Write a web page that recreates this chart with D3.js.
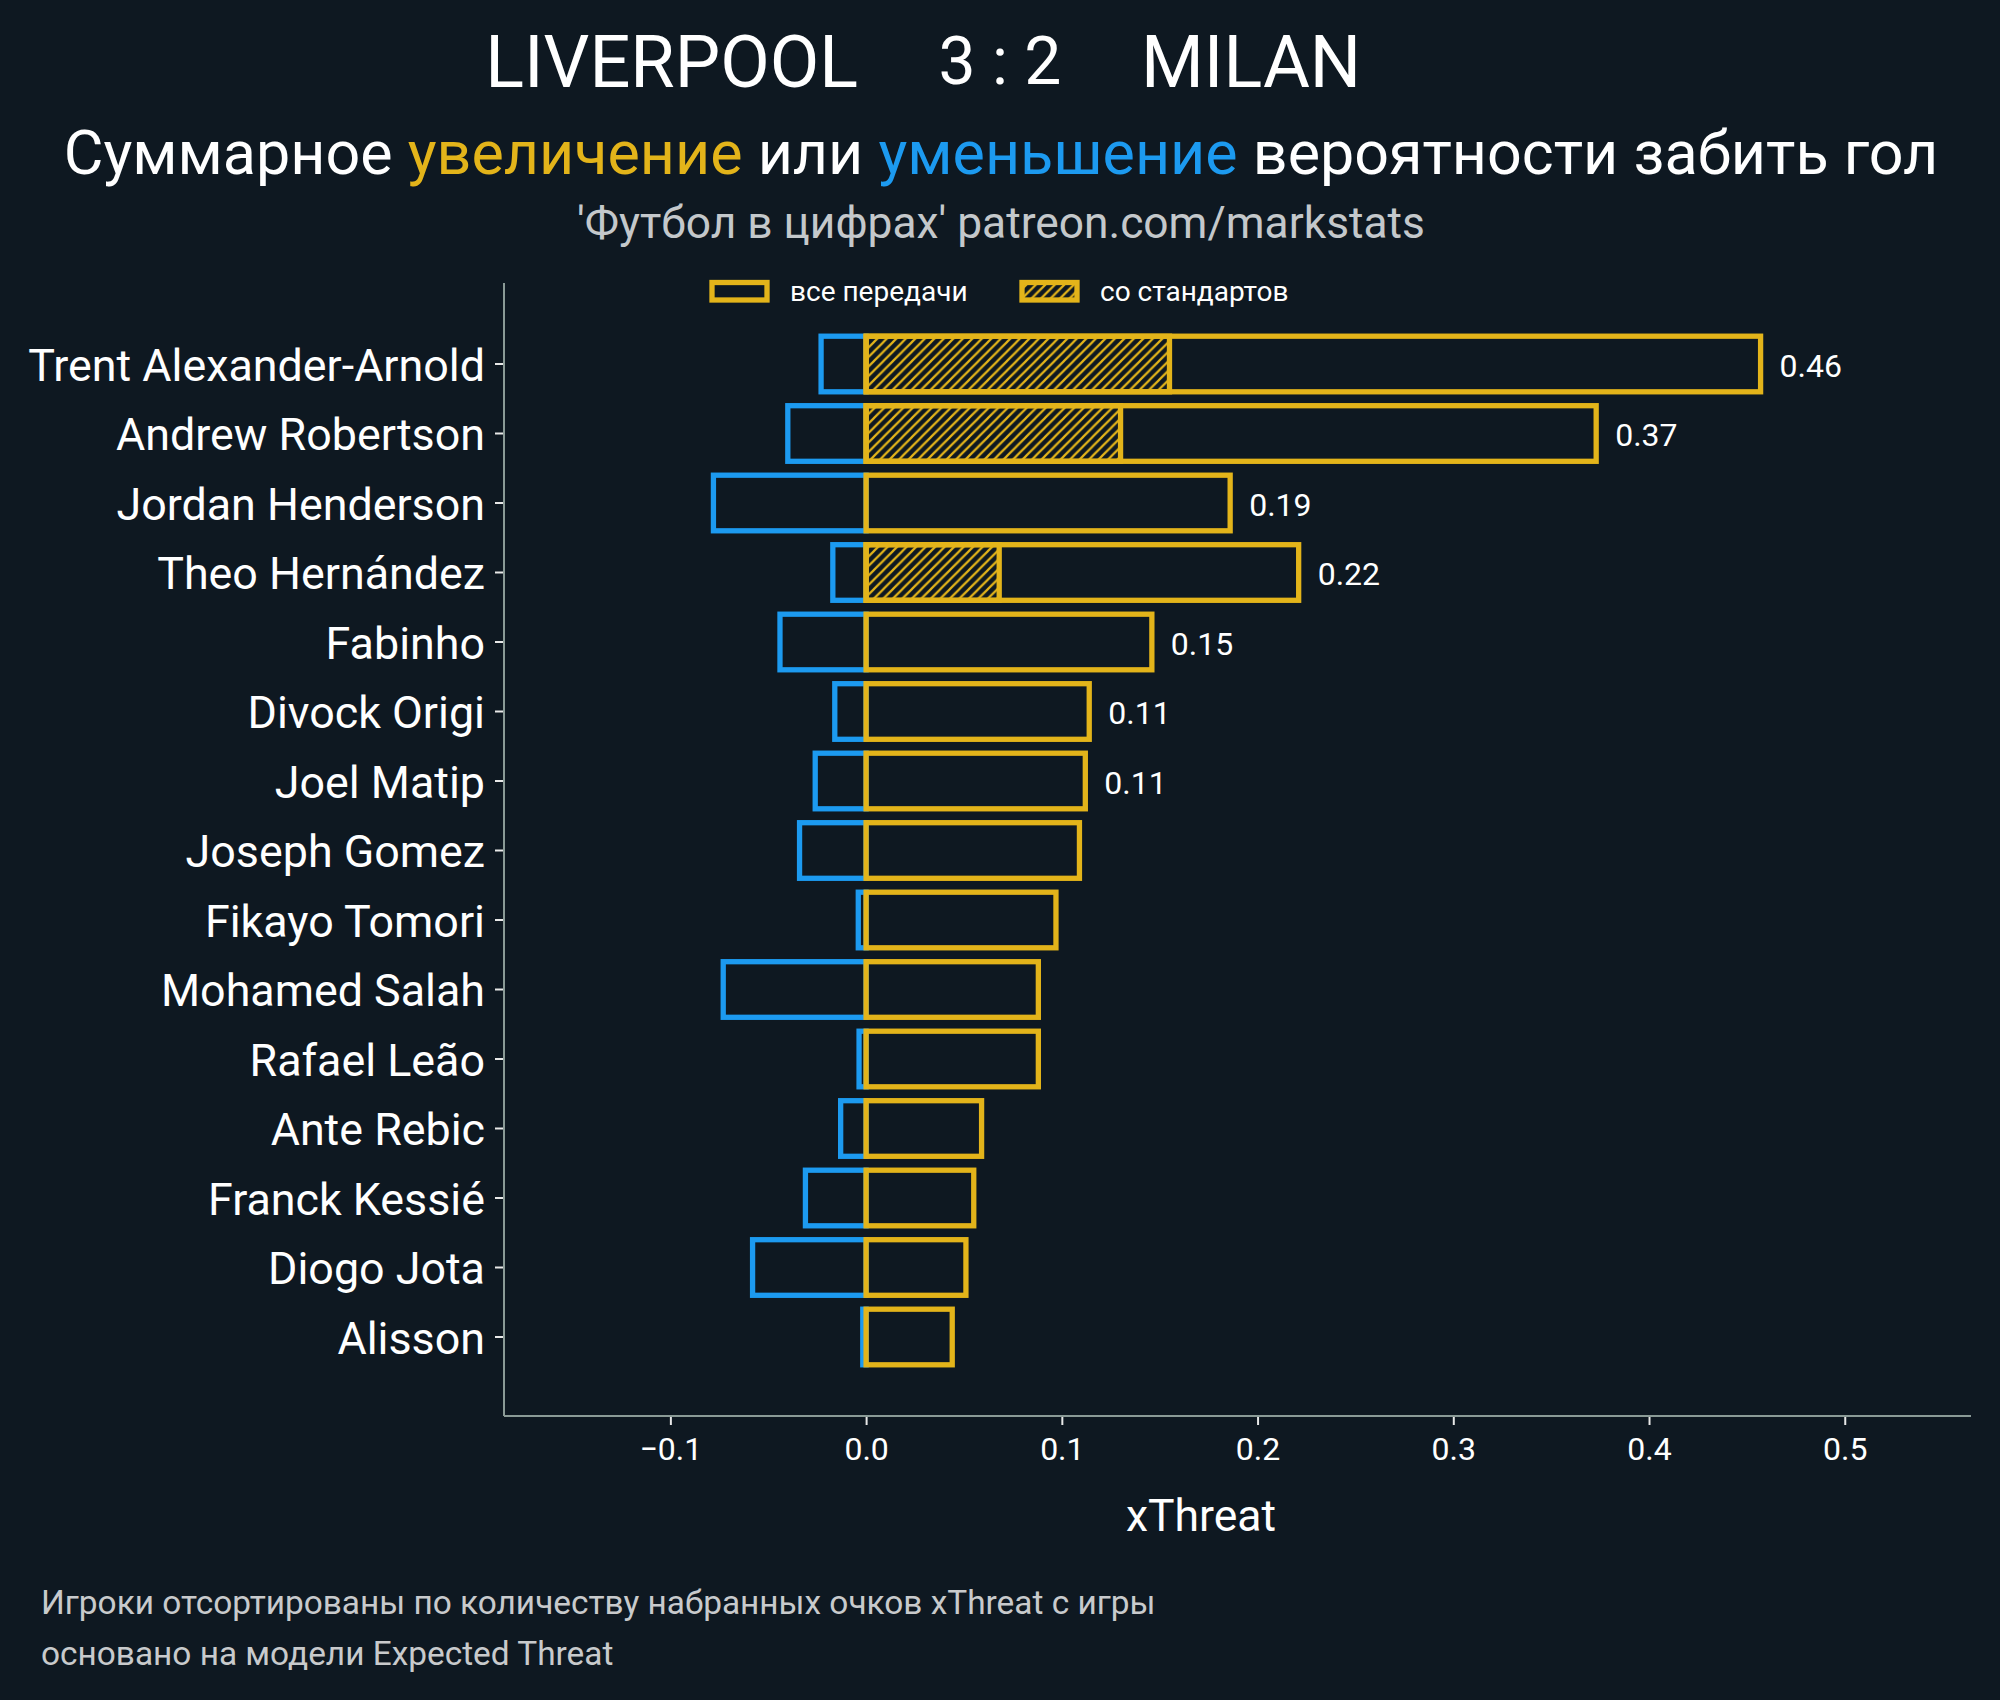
<!DOCTYPE html>
<html>
<head>
<meta charset="utf-8">
<script src="https://cdn.jsdelivr.net/npm/d3@7"></script>
<style>
  html, body { margin: 0; padding: 0; background: #0e1821; }
  svg { display: block; font-family: Roboto, "Noto Sans", sans-serif; }
</style>
</head>
<body>
<div id="main"></div>
<script>
// players, sorted as in the picture (top to bottom)
const players = [
  "Trent Alexander-Arnold", "Andrew Robertson", "Jordan Henderson", "Theo Hernández",
  "Fabinho", "Divock Origi", "Joel Matip", "Joseph Gomez", "Fikayo Tomori",
  "Mohamed Salah", "Rafael Leão", "Ante Rebic", "Franck Kessié", "Diogo Jota", "Alisson"
];
// xThreat gained by all passes
const gained = [0.457, 0.373, 0.186, 0.221, 0.146, 0.114, 0.112, 0.109, 0.097,
                0.088, 0.088, 0.059, 0.055, 0.051, 0.044];
// xThreat lost by all passes
const lost = [-0.023, -0.040, -0.078, -0.017, -0.044, -0.016, -0.026, -0.034, -0.004,
              -0.073, -0.0036, -0.013, -0.031, -0.058, -0.0017];
// xThreat gained from set pieces
const setPieces = [0.155, 0.130, 0, 0.068, 0, 0, 0, 0, 0, 0, 0, 0, 0, 0, 0];
const xTicks = [-0.1, 0.0, 0.1, 0.2, 0.3, 0.4, 0.5];

const data = players.map((p, i) => ({
  name: p, gained: gained[i], lost: lost[i], setPieces: setPieces[i]
}));

const width = 2000, height = 1700;
const frame = {left: 504, right: 1971, top: 283, bottom: 1416};
const yellow = "#e3b41a", blue = "#1c9af0", spine = "#8a9a96", bg = "#0e1821";

const svg = d3.select("#main").append("svg")
  .attr("width", width).attr("height", height);

svg.append("rect").attr("width", width).attr("height", height).attr("fill", bg);

// hatch pattern for set pieces
const pat = svg.append("defs").append("pattern")
  .attr("id", "hatch")
  .attr("patternUnits", "userSpaceOnUse")
  .attr("width", 9.5).attr("height", 9.5);
pat.append("path")
  .attr("d", "M-2,2 L2,-2 M0,9.5 L9.5,0 M7.5,11.5 L11.5,7.5")
  .attr("stroke", yellow).attr("stroke-width", 2.2);

const xScale = d3.scaleLinear()
  .domain([-0.185, 0.5645])
  .range([frame.left, frame.right]);

const yScale = d3.scaleBand()
  .domain(players)
  .range([329.25, 1371.75])
  .paddingInner(0.2)
  .paddingOuter(0.1);

// x axis
const xAxis = svg.append("g")
  .attr("transform", `translate(0,${frame.bottom})`)
  .call(d3.axisBottom(xScale)
    .tickValues(xTicks)
    .tickFormat(d3.format(".1f"))
    .tickSize(9)
    .tickPadding(12));
xAxis.select(".domain").remove();
xAxis.selectAll(".tick line").attr("stroke", "#e8e8e8").attr("stroke-width", 2);
xAxis.selectAll(".tick text")
  .attr("fill", "#ffffff").attr("font-size", 32).attr("font-family", "Roboto");

// y axis
const yAxis = svg.append("g")
  .attr("transform", `translate(${frame.left},0)`)
  .call(d3.axisLeft(yScale).tickSize(9).tickPadding(10));
yAxis.select(".domain").remove();
yAxis.selectAll(".tick line").attr("stroke", "#e8e8e8").attr("stroke-width", 2);
yAxis.selectAll(".tick text")
  .attr("fill", "#ffffff").attr("font-size", 44.8).attr("dy", "0.37em")
  .attr("font-family", "Roboto");

// spines
svg.append("line")
  .attr("x1", frame.left).attr("x2", frame.left)
  .attr("y1", frame.top).attr("y2", frame.bottom)
  .attr("stroke", spine).attr("stroke-width", 2);
svg.append("line")
  .attr("x1", frame.left).attr("x2", frame.right)
  .attr("y1", frame.bottom).attr("y2", frame.bottom)
  .attr("stroke", spine).attr("stroke-width", 2);

// bars
const bars = svg.append("g");
const bw = yScale.bandwidth();

bars.selectAll(".lost")
  .data(data)
  .enter().append("rect")
    .attr("class", "lost")
    .attr("x", d => xScale(d.lost))
    .attr("y", d => yScale(d.name))
    .attr("width", d => xScale(0) - xScale(d.lost))
    .attr("height", bw)
    .attr("fill", "none")
    .attr("stroke", blue)
    .attr("stroke-width", 5.3);

bars.selectAll(".gained")
  .data(data)
  .enter().append("rect")
    .attr("class", "gained")
    .attr("x", xScale(0))
    .attr("y", d => yScale(d.name))
    .attr("width", d => xScale(d.gained) - xScale(0))
    .attr("height", bw)
    .attr("fill", "none")
    .attr("stroke", yellow)
    .attr("stroke-width", 5.3);

bars.selectAll(".setpiece")
  .data(data.filter(d => d.setPieces > 0))
  .enter().append("rect")
    .attr("class", "setpiece")
    .attr("x", xScale(0))
    .attr("y", d => yScale(d.name))
    .attr("width", d => xScale(d.setPieces) - xScale(0))
    .attr("height", bw)
    .attr("fill", "url(#hatch)")
    .attr("stroke", yellow)
    .attr("stroke-width", 5.3);

// value labels for the biggest contributors
svg.append("g").selectAll("text")
  .data(data.filter(d => d.gained >= 0.11))
  .enter().append("text")
    .attr("x", d => xScale(d.gained) + 19)
    .attr("y", d => yScale(d.name) + bw / 2)
    .attr("dy", "0.4em")
    .attr("fill", "#ffffff")
    .attr("font-size", 32)
    .text(d => d3.format(".2f")(d.gained));

// legend
const legend = [
  {label: "все передачи", x: 712, fill: "none"},
  {label: "со стандартов", x: 1022, fill: "url(#hatch)"}
];
const lg = svg.append("g").selectAll("g").data(legend).enter().append("g");
lg.append("rect")
  .attr("x", d => d.x).attr("y", 282.5)
  .attr("width", 55).attr("height", 17.5)
  .attr("fill", d => d.fill)
  .attr("stroke", yellow).attr("stroke-width", 5.3);
lg.append("text")
  .attr("x", d => d.x + 78).attr("y", 301)
  .attr("fill", "#ffffff").attr("font-size", 28)
  .text(d => d.label);

// axis label
svg.append("text")
  .attr("x", 1201).attr("y", 1531)
  .attr("text-anchor", "middle")
  .attr("fill", "#ffffff").attr("font-size", 44.5)
  .text("xThreat");

// titles
svg.append("text").attr("x", 858).attr("y", 87).attr("text-anchor", "end")
  .attr("fill", "#ffffff").attr("font-size", 72).text("LIVERPOOL");
svg.append("text").attr("x", 1000).attr("y", 84).attr("text-anchor", "middle")
  .attr("fill", "#ffffff").attr("font-size", 66).text("3 : 2");
svg.append("text").attr("x", 1141).attr("y", 87).attr("text-anchor", "start")
  .attr("fill", "#ffffff").attr("font-size", 72).text("MILAN");

const sub = svg.append("text").attr("x", 1001).attr("y", 174)
  .attr("text-anchor", "middle").attr("fill", "#ffffff").attr("font-size", 61);
sub.append("tspan").text("Суммарное ");
sub.append("tspan").attr("fill", yellow).text("увеличение");
sub.append("tspan").text(" или ");
sub.append("tspan").attr("fill", blue).text("уменьшение");
sub.append("tspan").text(" вероятности забить гол");

svg.append("text").attr("x", 1001).attr("y", 238).attr("text-anchor", "middle")
  .attr("fill", "#c4c8cb").attr("font-size", 44.3)
  .text("'Футбол в цифрах' patreon.com/markstats");

// footer notes
svg.append("text").attr("x", 41).attr("y", 1614)
  .attr("fill", "#c8cacc").attr("font-size", 33.4)
  .text("Игроки отсортированы по количеству набранных очков xThreat с игры");
svg.append("text").attr("x", 41).attr("y", 1665)
  .attr("fill", "#c8cacc").attr("font-size", 33.4)
  .text("основано на модели Expected Threat");
</script>
</body>
</html>
